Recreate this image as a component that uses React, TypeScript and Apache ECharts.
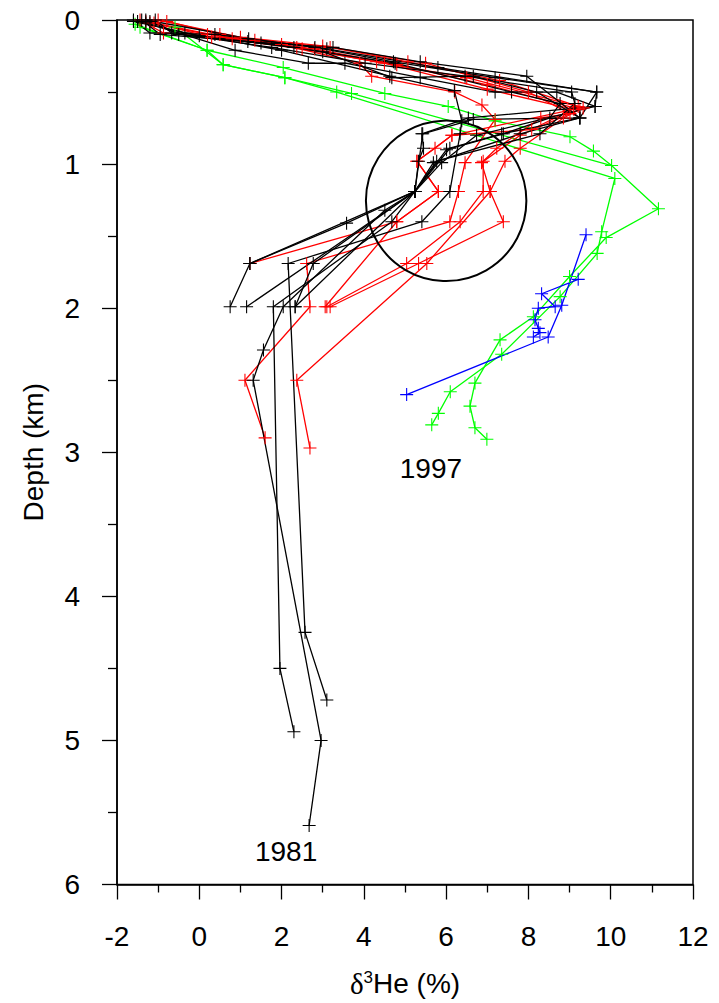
import React, { useEffect, useRef } from "react";
import * as echarts from "echarts";

// Axis settings
const X_MIN = -2;
const X_MAX = 12;
const X_STEP = 2;
const Y_MIN = 0;
const Y_MAX = 6;
const Y_STEP = 1;

// Black profiles (1981)
const black1 = [[-1.6,0],[-1.2,0.09],[0.38,0.1],[2.81,0.19],[4.72,0.29],[7.19,0.4],[9.66,0.5],[9.62,0.6],[6.74,0.8],[5.89,0.99],[5.24,1.19],[3.58,1.41],[1.23,1.69],[0.75,1.99]];
const black2 = [[-1.4,0],[-0.95,0.1],[1.18,0.15],[3.25,0.19],[5.37,0.29],[7.96,0.39],[9.25,0.68],[7.35,0.79],[6.09,0.89],[5.24,1.19],[1.15,1.99]];
const black3 = [[-1.07,0],[-0.67,0.09],[1.76,0.19],[4.03,0.3],[6.46,0.39],[9.05,0.5],[9.13,0.58],[8.28,0.79],[5.77,0.98],[5.24,1.19],[4.68,1.4],[1.8,1.99],[1.96,4.5],[2.3,4.94]];
const black4 = [[-1.5,0.01],[-0.35,0.09],[2.0,0.21],[4.63,0.39],[6.2,0.49],[6.38,0.7],[6.34,0.79],[6.09,1.19],[5.41,1.4],[2.16,1.69],[2.57,4.25],[3.1,4.72]];
const black5 = [[-1.3,0.02],[0.87,0.21],[2.65,0.3],[3.54,0.3],[5.37,0.4],[7.19,0.5],[8.69,0.5],[9.62,0.6],[6.54,0.68],[5.41,0.79],[5.45,0.89],[5.33,0.98],[5.24,1.19],[2.77,1.69],[2.33,1.99]];
const black6 = [[-1.2,0.01],[-0.5,0.1],[1.5,0.16],[3.0,0.22],[4.68,0.4],[6.66,0.39],[8.2,0.5],[9.25,0.68],[7.8,0.79],[5.69,0.99],[5.24,1.19],[4.51,1.32],[2.04,1.99],[1.56,2.29],[1.31,2.5],[2.96,5.0],[2.67,5.59]];
const black7 = [[-1.6,0.01],[0.0,0.11],[2.3,0.19],[4.76,0.3],[7.59,0.5],[8.77,0.58],[8.52,0.68],[7.39,0.79],[6.01,0.9],[5.24,1.19],[2.33,1.99]];
const black8 = [[-1.3,0],[1.2,0.13],[3.1,0.2],[5.8,0.33],[9.66,0.5],[9.25,0.68],[6.66,0.69],[5.43,0.79],[5.24,1.19],[1.23,1.69]];

// Red profiles
const red1 = [[-1.44,0],[-0.87,0.09],[1.35,0.14],[3.18,0.19],[5.07,0.29],[7.3,0.42],[9.21,0.6],[8.08,0.76],[6.14,0.8],[5.29,0.98],[5.81,1.19],[4.8,1.4],[1.23,1.69]];
const red2 = [[-0.79,0.01],[0.5,0.1],[2.37,0.19],[4.31,0.29],[6.5,0.4],[9.33,0.61],[8.85,0.68],[7.8,0.89],[7.43,0.98],[7.07,1.19],[7.39,1.4],[5.33,1.69],[3.18,1.99]];
const red3 = [[-1.2,0.02],[0.2,0.1],[2.0,0.17],[3.9,0.3],[4.19,0.39],[6.21,0.5],[6.87,0.59],[7.19,0.69],[6.46,0.99],[6.3,1.19],[6.09,1.4],[2.61,1.69],[2.69,1.99],[1.11,2.5],[1.6,2.9]];
const red4 = [[-1.0,0],[1.0,0.12],[3.0,0.18],[5.5,0.3],[8.0,0.5],[9.01,0.65],[8.3,0.68],[7.23,0.89],[6.9,0.98],[6.9,1.19],[6.34,1.4],[5.04,1.69],[3.1,1.99]];
const red5 = [[-1.3,0.01],[0.8,0.13],[2.8,0.2],[4.8,0.31],[7.0,0.45],[9.25,0.62],[7.8,0.8],[6.86,0.99],[7.07,1.19],[5.53,1.69],[2.37,2.5],[2.69,2.97]];
const red6 = [[-1.1,0.02],[0.3,0.12],[2.5,0.2],[4.5,0.3],[7.0,0.48],[9.1,0.62],[6.14,0.8],[5.73,0.89],[5.29,0.98],[5.81,1.19],[4.8,1.4],[3.06,1.99]];

// Green profiles (1997)
const green1 = [[-1.44,0.05],[0.19,0.21],[0.58,0.31],[2.08,0.4],[3.34,0.5],[10.1,1.1],[9.78,1.47],[9.67,1.62],[8.77,1.92],[7.35,2.32],[6.1,2.58],[5.81,2.73],[5.65,2.81]];
const green2 = [[-1.56,0.03],[0.19,0.21],[2.04,0.33],[4.51,0.51],[6.05,0.6],[7.19,0.7],[9.01,0.81],[9.58,0.91],[10.02,1.01],[11.16,1.31],[9.89,1.51],[9.0,1.78],[8.12,2.06],[7.31,2.22],[6.7,2.52],[6.58,2.68],[6.7,2.83],[6.99,2.91]];
const green3 = [[-0.59,0.05],[0.58,0.31],[2.08,0.4],[3.7,0.51],[10.02,1.01]];

// Blue profiles
const blue1 = [[9.4,1.49],[8.81,1.98],[8.48,2.2],[5.04,2.6]];
const blue2 = [[9.21,1.8],[8.32,1.9],[8.65,1.99],[8.24,2.0],[8.16,2.08],[8.24,2.14],[8.28,2.17],[8.12,2.2]];

// Circle annotation (center in data units, radius in x units)
const circleCenter = [6.0, 1.255];
const circleRadiusX = 1.95;

// Text annotations
const annotationLabels = ["1997", "1981"];
const annotationPositions = [[5.63, 3.11], [2.11, 5.77]];

const PLUS = "path://M11,0H13V11H24V13H13V24H11V13H0V11H11Z";
const FONT = "'Liberation Sans', Arial, sans-serif";

const groups: { data: number[][][]; color: string }[] = [
  { data: [green1, green2, green3], color: "#00ff00" },
  { data: [blue1, blue2], color: "#0000ff" },
  { data: [red1, red2, red3, red4, red5, red6], color: "#ff0000" },
  { data: [black1, black2, black3, black4, black5, black6, black7, black8], color: "#000000" },
];

export default function App() {
  const ref = useRef<HTMLDivElement>(null);
  useEffect(() => {
    document.body.style.margin = "0";
    if (!ref.current) return;
    const chart = echarts.init(ref.current, null, { renderer: "svg" });
    const series: any[] = [];
    groups.forEach((g) => {
      g.data.forEach((d) => {
        series.push({
          type: "line",
          data: d,
          symbol: PLUS,
          symbolSize: 13,
          showSymbol: true,
          lineStyle: { color: g.color, width: 1.3 },
          itemStyle: { color: g.color },
          silent: true,
        });
      });
    });
    series.push({
      type: "custom",
      data: [circleCenter],
      silent: true,
      z: 5,
      renderItem: (params: any, api: any) => {
        const c = api.coord([api.value(0), api.value(1)]);
        const r = Math.abs(api.size([circleRadiusX, 0])[0]);
        return {
          type: "circle",
          shape: { cx: c[0], cy: c[1], r },
          style: { fill: "none", stroke: "#000", lineWidth: 2 },
        };
      },
    });
    series.push({
      type: "custom",
      data: annotationPositions.map((p, i) => [p[0], p[1], i]),
      silent: true,
      z: 6,
      renderItem: (params: any, api: any) => {
        const c = api.coord([api.value(0), api.value(1)]);
        return {
          type: "text",
          x: c[0],
          y: c[1],
          style: {
            text: annotationLabels[api.value(2)],
            fill: "#000",
            fontSize: 28,
            fontFamily: FONT,
            align: "center",
            verticalAlign: "middle",
          },
        };
      },
    });

    chart.setOption({
      animation: false,
      backgroundColor: "#fff",
      grid: {
        left: 117,
        right: 26,
        top: 20,
        bottom: 118,
        show: true,
        borderColor: "#000",
        borderWidth: 1.5,
      },
      xAxis: {
        type: "value",
        min: X_MIN,
        max: X_MAX,
        interval: X_STEP,
        name: "{d|δ}{s|3}{n|He (%)}",
        nameLocation: "middle",
        nameGap: 84,
        nameTextStyle: {
          rich: {
            d: { fontFamily: "'Liberation Serif', serif", fontSize: 29, color: "#000", lineHeight: 30 },
            s: { fontFamily: FONT, fontSize: 17, color: "#000", verticalAlign: "top", lineHeight: 30, padding: [0, 0, 12, 0] },
            n: { fontFamily: FONT, fontSize: 28, color: "#000", lineHeight: 30 },
          },
        },
        axisLine: { onZero: false, lineStyle: { color: "#000", width: 1.5 } },
        axisTick: { show: true, length: 15, lineStyle: { color: "#000", width: 1.3 } },
        minorTick: { show: true, splitNumber: 2, length: 8, lineStyle: { color: "#000", width: 1.3 } },
        splitLine: { show: false },
        minorSplitLine: { show: false },
        axisLabel: { color: "#000", fontSize: 28, fontFamily: FONT, margin: 38 },
      },
      yAxis: {
        type: "value",
        inverse: true,
        min: Y_MIN,
        max: Y_MAX,
        interval: Y_STEP,
        name: "Depth (km)",
        nameLocation: "middle",
        nameGap: 70,
        nameTextStyle: { color: "#000", fontSize: 28, fontFamily: FONT },
        axisLine: { onZero: false, lineStyle: { color: "#000", width: 1.5 } },
        axisTick: { show: true, length: 15, lineStyle: { color: "#000", width: 1.3 } },
        minorTick: { show: true, splitNumber: 2, length: 9, lineStyle: { color: "#000", width: 1.3 } },
        splitLine: { show: false },
        minorSplitLine: { show: false },
        axisLabel: { color: "#000", fontSize: 28, fontFamily: FONT, margin: 37 },
      },
      series,
    });
    return () => chart.dispose();
  }, []);
  return <div ref={ref} style={{ width: 719, height: 1003 }} />;
}
